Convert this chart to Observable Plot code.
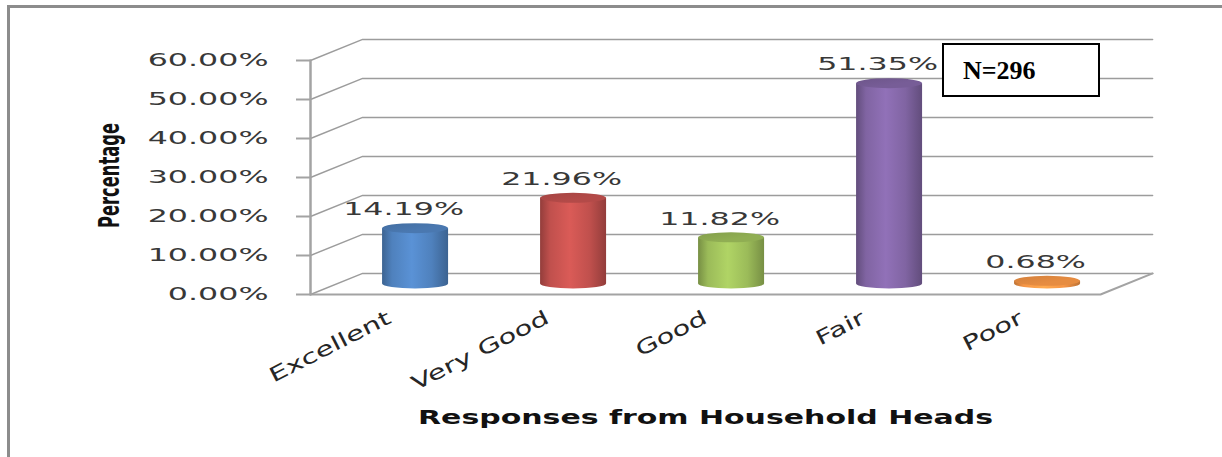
<!DOCTYPE html>
<html>
<head>
<meta charset="utf-8">
<script src="https://cdn.jsdelivr.net/npm/d3@7"></script>
<script src="https://cdn.jsdelivr.net/npm/@observablehq/plot@0.6"></script>
<style>
  html, body { margin: 0; padding: 0; background: #fff; }
  body { width: 1222px; height: 457px; position: relative; overflow: hidden; }
  #frame { position: absolute; left: 7px; top: 5px; width: 1400px; height: 700px;
           border: 3px solid #8c8c8c; box-sizing: border-box; }
  #chart { position: absolute; left: 0; top: 0; }
  #nbox { position: absolute; left: 942px; top: 43px; width: 158px; height: 54px;
          box-sizing: border-box; border: 2px solid #000; background: #fff;
          display: flex; align-items: center; padding-left: 19px; padding-top: 2px;
          font-family: "Liberation Serif", "Times New Roman", serif; font-weight: bold;
          font-size: 26px; color: #000; }
</style>
</head>
<body>
<div id="frame"></div>
<div id="chart"></div>
<div id="nbox">N=296</div>
<script>
// ---- data ----
const categories = ["Excellent", "Very Good", "Good", "Fair", "Poor"];
const values = [14.19, 21.96, 11.82, 51.35, 0.68];
const baseColors = ["#4F81BD", "#C0504D", "#9BBB59", "#8064A2", "#F79646"];
const yTicks = [0, 10, 20, 30, 40, 50, 60];
const xTitle = "Responses from Household Heads";
const yTitle = "Percentage";

// ---- oblique 3D projection (depth expressed in data units) ----
const DEPTH_X = 0.33;   // horizontal shift of the back wall, in category units
const DEPTH_Y = 5.4;    // vertical shift of the back wall, in percentage units
const BAR_DEPTH = 0.5;  // bars sit half-way into the floor

const data = categories.map((c, i) => ({i, c, v: values[i]}));
const cx = d => d.i + 0.5 + DEPTH_X * BAR_DEPTH;
const baseY = DEPTH_Y * BAR_DEPTH;

// grid: front tick -> back wall -> right end of back wall
const grid = yTicks.flatMap(t => [
  {t, x: 0, y: t},
  {t, x: DEPTH_X, y: t + DEPTH_Y},
  {t, x: categories.length + DEPTH_X, y: t + DEPTH_Y}
]);
const floorFront = [
  {x: 0, y: 0},
  {x: categories.length, y: 0},
  {x: categories.length + DEPTH_X, y: DEPTH_Y}
];
const leftEdge = [{x: 0, y: 0}, {x: 0, y: yTicks[yTicks.length - 1]}];

const fmt = d => d.toFixed(2) + "%";
const HALF = -33; // negative inset = half-width of cylinder in px

const plot = Plot.plot({
  width: 1222,
  height: 457,
  marginLeft: 310,
  marginRight: 122,
  marginTop: 60,
  marginBottom: 163,
  style: {fontFamily: "DejaVu Sans, Verdana, sans-serif", fontSize: "18px", color: "#383838", background: "transparent"},
  x: {domain: [0, categories.length]},
  y: {domain: [0, 60]},
  color: {type: "identity"},
  marks: [
    Plot.line(grid, {x: "x", y: "y", z: "t", stroke: "#9c9c9c", strokeWidth: 1.4}),
    Plot.line(floorFront, {x: "x", y: "y", stroke: "#a3a3a3", strokeWidth: 2}),
    Plot.line(leftEdge, {x: "x", y: "y", stroke: "#a3a3a3", strokeWidth: 2.5}),
    Plot.axisY({ticks: yTicks, tickSize: 14, tickPadding: 28, tickFormat: fmt, label: null,
                stroke: "#a3a3a3", strokeWidth: 2, fontSize: 18, fill: "#383838"}),
    Plot.axisX({ticks: categories.map((_, i) => i + 0.5), tickFormat: i => categories[Math.floor(i)],
                tickRotate: -27, tickSize: 0, tickPadding: 22, label: null, fontSize: 20, fill: "#262626"}),
    // bottom ellipse of cylinder
    Plot.rect(data, {x1: cx, x2: cx, y1: baseY, y2: baseY, insetLeft: HALF, insetRight: HALF,
                     insetTop: -5, insetBottom: -5, rx: 33, ry: 5, fill: d => `url(#cyl${d.i})`}),
    // body
    Plot.rect(data, {x1: cx, x2: cx, y1: baseY, y2: d => d.v + baseY, insetLeft: HALF, insetRight: HALF,
                     fill: d => `url(#cyl${d.i})`}),
    // top cap
    Plot.rect(data, {x1: cx, x2: cx, y1: d => d.v + baseY, y2: d => d.v + baseY, insetLeft: HALF, insetRight: HALF,
                     insetTop: -5, insetBottom: -5, rx: 33, ry: 5, fill: d => `url(#cap${d.i})`}),
    Plot.text(data, {x: cx, y: d => d.v + baseY, text: d => fmt(d.v), dx: -12, dy: -19,
                     fontSize: 18, fill: "#383838", ariaDescription: "value label"}),
    Plot.text([xTitle], {frameAnchor: "bottom", lineAnchor: "middle", dy: 123, fontSize: 19, fontWeight: "bold",
                         fill: "#111", ariaDescription: "x title"}),
    Plot.text([yTitle], {frameAnchor: "left", textAnchor: "middle", lineAnchor: "middle", dx: -201, dy: -2,
                         rotate: -90, fontSize: 29, fontWeight: "bold",
                         fontFamily: "Liberation Sans Narrow, DejaVu Sans Condensed, sans-serif",
                         fill: "#111", ariaDescription: "y title"})
  ]
});

document.getElementById("chart").appendChild(plot);

// gradients for the cylinders
const svg = d3.select(plot);
const defs = svg.insert("defs", ":first-child");
baseColors.forEach((b, i) => {
  const dark = d3.color(b).darker(0.75).formatHex();
  const mid = d3.color(b).formatHex();
  const light = d3.color(b).brighter(0.35).formatHex();
  const g = defs.append("linearGradient").attr("id", `cyl${i}`).attr("x1", 0).attr("x2", 1).attr("y1", 0).attr("y2", 0);
  [[0, dark], [0.15, mid], [0.45, light], [0.75, mid], [1, dark]].forEach(([o, c]) =>
    g.append("stop").attr("offset", o).attr("stop-color", c));
  const cg = defs.append("linearGradient").attr("id", `cap${i}`).attr("x1", 0).attr("x2", 1).attr("y1", 0).attr("y2", 1);
  const capC = d3.color(b).darker(0.2).formatHex();
  const capD = d3.color(b).darker(0.45).formatHex();
  [[0, capD], [0.6, capC], [1, capC]].forEach(([o, c]) =>
    cg.append("stop").attr("offset", o).attr("stop-color", c));
});

// horizontal stretch of the chart text (the reference is widened)
function stretch(selector, factor, fixed) {
  plot.querySelectorAll(selector).forEach(t => {
    const w = t.getComputedTextLength();
    t.setAttribute("textLength", fixed ? fixed : w * factor);
    t.setAttribute("lengthAdjust", "spacingAndGlyphs");
  });
}
stretch('g[aria-label="y-axis tick label"] text', 1.76);
stretch('g[aria-description="value label"] text', 1.76);
stretch('g[aria-label="x-axis tick label"] text', 1.46);
stretch('g[aria-description="x title"] text', 0, 575);
stretch('g[aria-description="y title"] text', 0, 105);
</script>
</body>
</html>
